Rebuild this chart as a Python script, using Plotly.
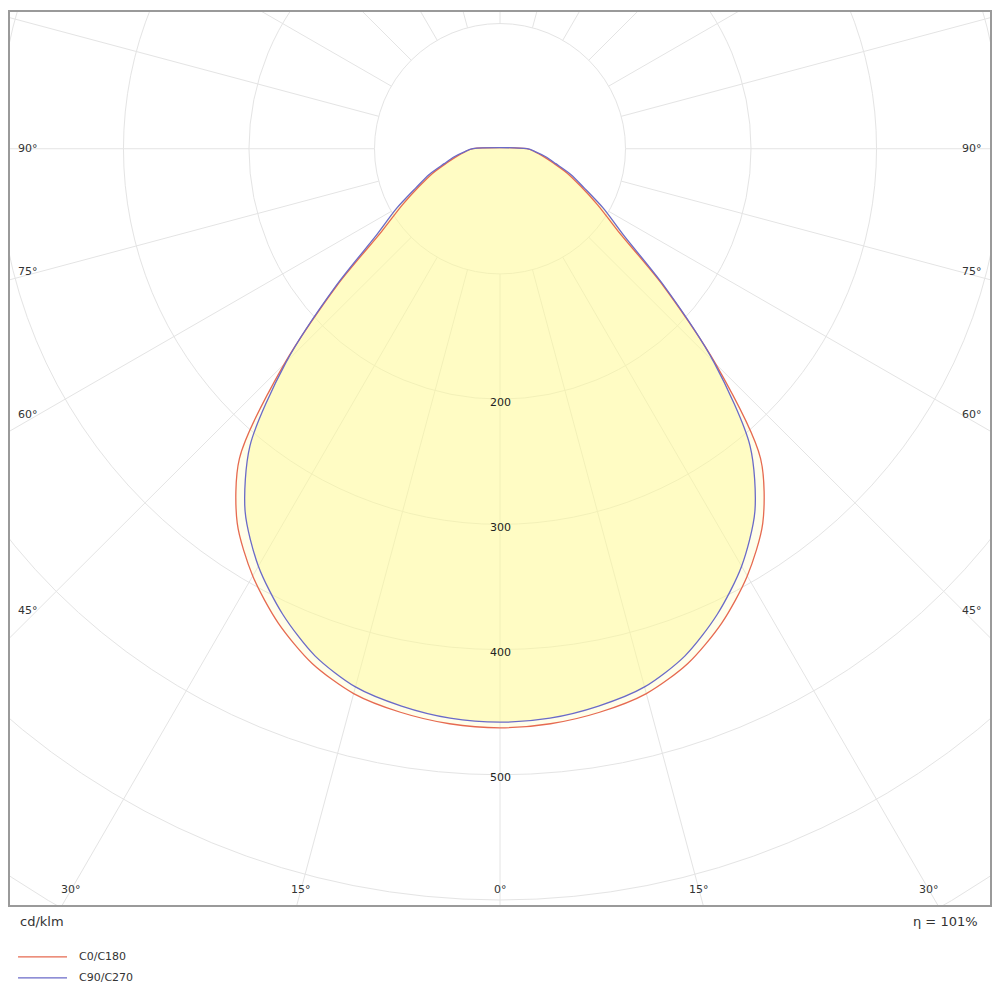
import numpy as np
import plotly.graph_objects as go

# -- datos de la curva fotometrica (cd/klm), simetrica izquierda/derecha
angulos = [0, 5, 10, 15, 20, 25, 30, 35, 40, 45, 50, 55, 60, 65, 70, 75, 80, 85, 90]
c0_c180 = [462.5, 461, 457, 450.5, 437.5, 418, 394, 365, 323, 243, 169, 115, 90, 71, 57, 44, 35, 28, 21.5]
c90_c270 = [458, 456.5, 452, 445, 431, 410, 385, 354, 310, 241, 171, 120, 95, 74, 60, 46, 37, 28.5, 21.5]

radios_grid = [100, 200, 300, 400, 500, 600, 700]
radios_etiqueta = [200, 300, 400, 500]
angulos_grid = list(range(0, 360, 15))
angulos_etiqueta = [0, 15, 30, 45, 60, 75, 90]

nombres = ['C0/C180', 'C90/C270']
colores = ['#e66a50', '#6a6ac8']
rellenos = ['rgba(255,250,150,0.2)', 'rgba(255,250,150,0.45)']
unidad = 'cd/klm'
eta = 'η = 101%'

FUENTE = 'DejaVu Sans'


def a_xy(ang, val):
    # 0 grados hacia abajo, lado izquierdo = C180/C270, derecho = C0/C90
    t = np.radians(np.array(ang, dtype=float))
    r = np.array(val, dtype=float)
    xl = -(r * np.sin(t))[::-1]
    yl = -(r * np.cos(t))[::-1]
    xr = (r * np.sin(t))[1:]
    yr = -(r * np.cos(t))[1:]
    x = np.concatenate([xl, xr, xl[:1]])
    y = np.concatenate([yl, yr, yl[:1]])
    return x, y


fig = go.Figure()

# rellenos primero
for val, rel in zip([c0_c180, c90_c270], rellenos):
    x, y = a_xy(angulos, val)
    fig.add_trace(go.Scatter(x=x, y=y, mode='lines', fill='toself', fillcolor=rel,
                             line=dict(width=0, shape='spline', smoothing=0.8),
                             hoverinfo='skip', showlegend=False))

# lineas encima
for val, nom, col in zip([c0_c180, c90_c270], nombres, colores):
    x, y = a_xy(angulos, val)
    fig.add_trace(go.Scatter(x=x, y=y, mode='lines', name=nom,
                             line=dict(color=col, width=1.3, shape='spline', smoothing=0.8),
                             showlegend=False))

# rejilla polar
formas = []
for r in radios_grid:
    formas.append(dict(type='circle', xref='x', yref='y', x0=-r, y0=-r, x1=r, y1=r,
                       line=dict(color='#e4e4e4', width=1), layer='below'))
for a in angulos_grid:
    t = np.radians(a)
    formas.append(dict(type='line', xref='x', yref='y',
                       x0=100 * np.sin(t), y0=-100 * np.cos(t),
                       x1=900 * np.sin(t), y1=-900 * np.cos(t),
                       line=dict(color='#e4e4e4', width=1), layer='below'))

# leyenda hecha a mano
for i, (nom, col) in enumerate(zip(nombres, colores)):
    yy = -0.0581 - i * 0.0235
    formas.append(dict(type='line', xref='paper', yref='paper', x0=0.0082, x1=0.0582,
                       y0=yy, y1=yy, line=dict(color=col, width=1.3)))

notas = []
for r in radios_etiqueta:
    notas.append(dict(x=0, y=-r, text=str(r), showarrow=False, yshift=-3,
                      font=dict(family=FUENTE, size=11, color='#222222')))

XIN, YBOT = 376, -592
for a in angulos_etiqueta:
    t = np.radians(a)
    txt = f'{a}°'
    if a == 0:
        notas.append(dict(x=0, y=YBOT, text=txt, showarrow=False,
                          font=dict(family=FUENTE, size=11, color='#333333')))
        continue
    yl = -XIN * np.cos(t) / np.sin(t)
    for lado in (-1, 1):
        if yl > YBOT:
            px, py = lado * XIN, yl
        else:
            px, py = lado * (-YBOT) * np.tan(t), YBOT
        notas.append(dict(x=px, y=py, text=txt, showarrow=False,
                          yshift=(90 - a) * 0.2 if yl > YBOT else 0,
                          font=dict(family=FUENTE, size=11, color='#333333')))

notas.append(dict(xref='paper', yref='paper', x=0.0082, y=-0.019, xanchor='left', yanchor='middle',
                  text=unidad, showarrow=False, font=dict(family=FUENTE, size=13, color='#333333')))
notas.append(dict(xref='paper', yref='paper', x=0.9898, y=-0.019, xanchor='right', yanchor='middle',
                  text=eta, showarrow=False, font=dict(family=FUENTE, size=13, color='#333333')))
for i, nom in enumerate(nombres):
    notas.append(dict(xref='paper', yref='paper', x=0.0684, y=-0.0581 - i * 0.0235,
                      xanchor='left', yanchor='middle', text=nom, showarrow=False,
                      font=dict(family=FUENTE, size=11, color='#333333')))

# el navegador deja 8px de margen en body, se compensa aqui
fig.update_layout(
    width=992, height=992,
    margin=dict(l=2, r=10, t=2, b=95),
    paper_bgcolor='white', plot_bgcolor='white',
    shapes=formas, annotations=notas,
    xaxis=dict(range=[-390.4, 390.4], showgrid=False, zeroline=False, showticklabels=False,
               showline=True, mirror=True, linecolor='#9a9a9a', linewidth=2, ticks=''),
    yaxis=dict(range=[-604, 109.2], showgrid=False, zeroline=False, showticklabels=False,
               showline=True, mirror=True, linecolor='#9a9a9a', linewidth=2, ticks=''),
)

fig.write_html("out.html")
